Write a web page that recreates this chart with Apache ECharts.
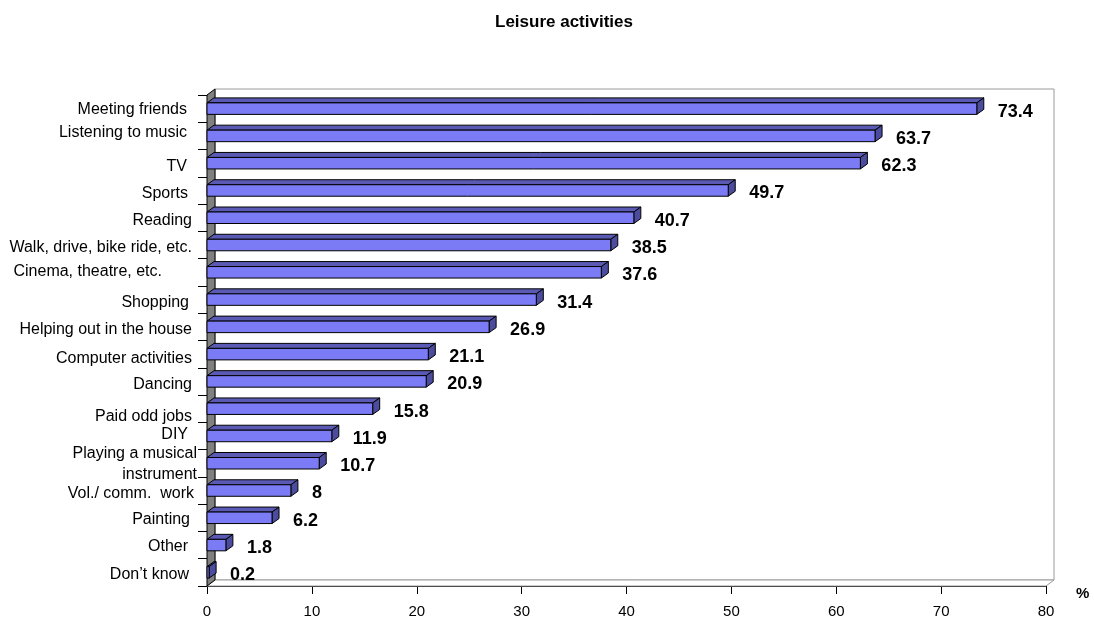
<!DOCTYPE html>
<html>
<head>
<meta charset="utf-8">
<script src="https://cdn.jsdelivr.net/npm/echarts@6/dist/echarts.min.js"></script>
<style>html,body{margin:0;padding:0;background:#fff;}#c{width:1094px;height:621px;}</style>
</head>
<body>
<div id="c"></div>
<script>
const categories = ['Meeting friends','Listening to music','TV','Sports','Reading','Walk, drive, bike ride, etc.','Cinema, theatre, etc.','Shopping','Helping out in the house','Computer activities','Dancing','Paid odd jobs','DIY','Playing a musical\ninstrument','Vol./ comm.  work','Painting','Other','Don\u2019t know'];
const values = [73.4,63.7,62.3,49.7,40.7,38.5,37.6,31.4,26.9,21.1,20.9,15.8,11.9,10.7,8,6.2,1.8,0.2];
const xTicks = {min: 0, max: 80, interval: 10};

const FONT = '"Liberation Sans", Arial, sans-serif';
const DX = 8, DY = 6;               // wall depth
const BDX = 7, BDY = 5, BH = 11.5;  // bar depth and front-face height
// per-label nudges [vertical shift, right gap] mimicking the original label placement
const labelNudge = [[1,10],[-3,10],[3,10],[3,9],[3,5],[3,5],[-1,35],[3,8],[3,5],[4,5],[3,5],[8,5],[-1,9],[1,0],[3,3],[2,7],[2,9],[2,8]];

const rich = {};
labelNudge.forEach((n, i) => {
  const s = n[0];
  rich['c' + i] = {
    fontFamily: FONT, fontSize: 16, color: '#000', lineHeight: 21,
    padding: [s > 0 ? 2 * s : 0, n[1], s < 0 ? -2 * s : 0, 0]
  };
});

const chart = echarts.init(document.getElementById('c'), null, {renderer: 'canvas'});

chart.setOption({
  animation: false,
  backgroundColor: '#fff',
  title: {text: 'Leisure activities', left: 490, top: 9, textStyle: {fontFamily: FONT, fontSize: 17, fontWeight: 'bold', color: '#000'}},
  grid: {left: 207, right: 48, top: 95, bottom: 35},
  xAxis: {
    type: 'value', min: xTicks.min, max: xTicks.max, interval: xTicks.interval,
    name: '%', nameLocation: 'end', nameGap: 30,
    nameTextStyle: {fontFamily: FONT, fontSize: 15, fontWeight: 'bold', color: '#000', verticalAlign: 'top', align: 'left'},
    axisLine: {show: true, lineStyle: {color: '#000', width: 1}},
    axisTick: {show: true, length: 8, lineStyle: {color: '#000'}},
    axisLabel: {fontFamily: FONT, fontSize: 15, color: '#000', margin: 18},
    splitLine: {show: false}
  },
  yAxis: {
    type: 'category', inverse: true, data: categories,
    axisLine: {show: true, lineStyle: {color: '#000', width: 1}},
    axisTick: {show: true, length: 9, interval: 0, lineStyle: {color: '#000'}},
    axisLabel: {
      fontFamily: FONT, fontSize: 16, color: '#000', margin: 10, interval: 0,
      formatter: function (value, index) {
        return value.split('\n').map(line => '{c' + index + '|' + line + '}').join('\n');
      },
      rich: rich
    },
    splitLine: {show: false}
  },
  series: [
    {
      type: 'custom', z: 1, silent: true,
      data: [[0, 0]],
      renderItem: function (params, api) {
        const cs = params.coordSys;
        const x0 = cs.x, y0 = cs.y, x1 = cs.x + cs.width, y1 = cs.y + cs.height;
        return {
          type: 'group',
          children: [
            {type: 'polygon', shape: {points: [[x0 + DX, y0 - DY], [x1 + DX, y0 - DY], [x1 + DX, y1 - DY], [x0 + DX, y1 - DY]]},
              style: {fill: '#fff', stroke: '#9a9a9a', lineWidth: 1}},
            {type: 'polygon', shape: {points: [[x0, y1], [x0 + DX, y1 - DY], [x1 + DX, y1 - DY], [x1, y1]]},
              style: {fill: '#fff', stroke: '#9a9a9a', lineWidth: 1}},
            {type: 'polygon', shape: {points: [[x0, y0], [x0 + DX, y0 - DY], [x0 + DX, y1 - DY], [x0, y1]]},
              style: {fill: '#808080', stroke: '#000', lineWidth: 1}}
          ]
        };
      }
    },
    {
      type: 'custom', z: 3, silent: true,
      encode: {x: 0, y: 1},
      data: values.map((v, i) => [v, i]),
      renderItem: function (params, api) {
        const v = api.value(0), ci = api.value(1);
        const s = api.coord([0, ci]);
        const e = api.coord([v, ci]);
        const xa = s[0], xb = e[0];
        const yt = s[1] - BH / 2, yb = s[1] + BH / 2;
        return {
          type: 'group',
          children: [
            {type: 'polygon', shape: {points: [[xa, yt], [xa + BDX, yt - BDY], [xb + BDX, yt - BDY], [xb, yt]]},
              style: {fill: '#5a5ab4', stroke: '#000', lineWidth: 1}},
            {type: 'polygon', shape: {points: [[xb, yt], [xb + BDX, yt - BDY], [xb + BDX, yb - BDY], [xb, yb]]},
              style: {fill: '#4c4c9e', stroke: '#000', lineWidth: 1}},
            {type: 'rect', shape: {x: xa, y: yt, width: xb - xa, height: yb - yt},
              style: {fill: '#7b7bf5', stroke: '#000', lineWidth: 1}},
            {type: 'text', x: xb + 21, y: s[1] + 3,
              style: {text: String(v), fontFamily: FONT, fontSize: 18, fontWeight: 'bold', fill: '#000', align: 'left', verticalAlign: 'middle'}}
          ]
        };
      }
    }
  ]
});
</script>
</body>
</html>
